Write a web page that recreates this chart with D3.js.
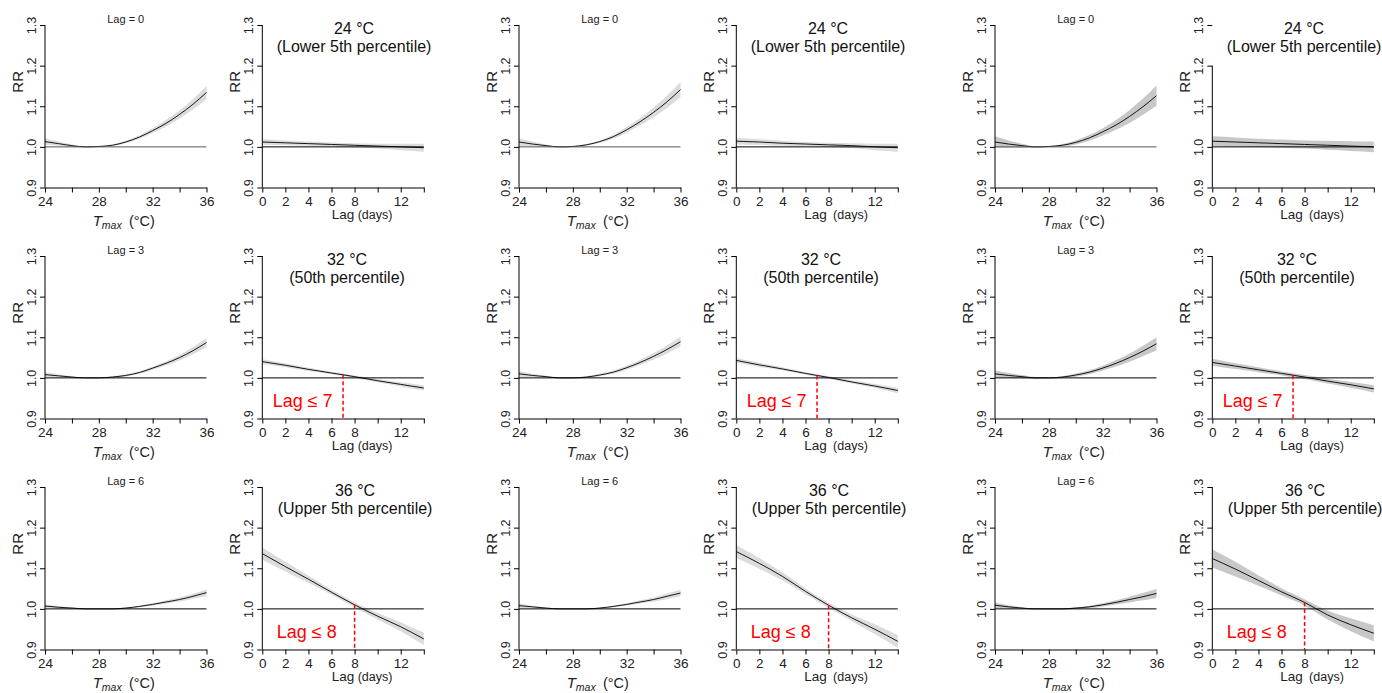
<!DOCTYPE html>
<html>
<head>
<meta charset="utf-8">
<script src="https://cdn.jsdelivr.net/npm/d3@7"></script>
<style>
  body { margin: 0; background: #fff; }
  svg { display: block; font-family: "Liberation Sans", Arial, sans-serif; }
</style>
</head>
<body>
<svg id="chart" width="1382" height="693"></svg>
<script>
// ---- data -------------------------------------------------------------
const tmaxGrid = [24, 25, 26, 27, 28, 29, 30, 31, 32, 33, 34, 35, 36];
const lagGrid = [0, 2, 4, 6, 8, 10, 12, 14];

const tmaxTicks = [24, 26, 28, 30, 32, 34, 36];
const tmaxTickLabels = [24, 28, 32, 36];
const lagTicks = [0, 2, 4, 6, 8, 10, 12, 14];
const lagTickLabels = [0, 2, 4, 6, 8, 12];
const rrTicks = [0.9, 1.0, 1.1, 1.2, 1.3];

const lagShown = [0, 3, 6];
const tempTitles = ["24 °C", "32 °C", "36 °C"];
const tempSubtitles = ["(Lower 5th percentile)", "(50th percentile)", "(Upper 5th percentile)"];
const lagCutoff = [null, 7, 8];

// exposure-response at a fixed lag (rows: lag 0, 3, 6)
const tmaxRR_A = [
  [1.013, 1.008, 1.003, 1.000, 1.001, 1.004, 1.012, 1.024, 1.040, 1.058, 1.080, 1.105, 1.134],
  [1.008, 1.005, 1.002, 1.000, 1.000, 1.002, 1.006, 1.013, 1.024, 1.036, 1.050, 1.067, 1.087],
  [1.007, 1.004, 1.002, 1.000, 1.000, 1.000, 1.002, 1.006, 1.011, 1.017, 1.023, 1.031, 1.040]
];
const tmaxHW_A = [
  [0.008, 0.005, 0.003, 0.001, 0.001, 0.002, 0.003, 0.004, 0.006, 0.008, 0.010, 0.013, 0.016],
  [0.006, 0.004, 0.002, 0.001, 0.001, 0.002, 0.003, 0.003, 0.004, 0.005, 0.007, 0.009, 0.011],
  [0.004, 0.003, 0.002, 0.001, 0.001, 0.001, 0.002, 0.002, 0.003, 0.004, 0.005, 0.006, 0.008]
];
// lag-response at a fixed temperature (rows: 24, 32, 36 °C)
const lagRR_A = [
  [1.012, 1.010, 1.008, 1.006, 1.004, 1.002, 1.000, 0.998],
  [1.040, 1.031, 1.021, 1.012, 1.003, 0.993, 0.984, 0.975],
  [1.136, 1.104, 1.073, 1.041, 1.010, 0.982, 0.956, 0.926]
];
const lagHW_A = [
  [0.007, 0.006, 0.005, 0.005, 0.005, 0.006, 0.008, 0.010],
  [0.006, 0.005, 0.004, 0.003, 0.003, 0.004, 0.005, 0.006],
  [0.015, 0.012, 0.009, 0.006, 0.006, 0.008, 0.011, 0.015]
];

const tmaxRR_B = [
  [1.012, 1.007, 1.003, 1.000, 1.001, 1.005, 1.013, 1.025, 1.042, 1.062, 1.085, 1.111, 1.141],
  [1.010, 1.006, 1.003, 1.000, 1.000, 1.002, 1.007, 1.014, 1.025, 1.038, 1.053, 1.070, 1.089],
  [1.008, 1.005, 1.002, 1.000, 1.000, 1.000, 1.002, 1.006, 1.011, 1.017, 1.023, 1.031, 1.039]
];
const tmaxHW_B = [
  [0.009, 0.006, 0.003, 0.001, 0.001, 0.002, 0.003, 0.005, 0.007, 0.009, 0.012, 0.015, 0.018],
  [0.007, 0.004, 0.002, 0.001, 0.001, 0.002, 0.003, 0.004, 0.005, 0.006, 0.008, 0.010, 0.012],
  [0.005, 0.003, 0.002, 0.001, 0.001, 0.001, 0.002, 0.002, 0.003, 0.004, 0.005, 0.007, 0.008]
];
const lagRR_B = [
  [1.014, 1.012, 1.009, 1.007, 1.005, 1.003, 1.000, 0.998],
  [1.043, 1.032, 1.022, 1.011, 1.001, 0.990, 0.980, 0.969],
  [1.141, 1.112, 1.080, 1.043, 1.009, 0.978, 0.950, 0.920]
];
const lagHW_B = [
  [0.008, 0.007, 0.006, 0.005, 0.005, 0.006, 0.008, 0.010],
  [0.006, 0.005, 0.004, 0.003, 0.003, 0.004, 0.005, 0.007],
  [0.016, 0.013, 0.010, 0.007, 0.006, 0.008, 0.012, 0.016]
];

const tmaxRR_C = [
  [1.012, 1.007, 1.003, 1.000, 1.001, 1.004, 1.011, 1.022, 1.037, 1.054, 1.075, 1.099, 1.126],
  [1.010, 1.006, 1.003, 1.000, 1.000, 1.002, 1.007, 1.014, 1.024, 1.036, 1.050, 1.066, 1.084],
  [1.009, 1.005, 1.002, 1.000, 1.000, 1.000, 1.002, 1.005, 1.010, 1.016, 1.023, 1.030, 1.038]
];
const tmaxHW_C = [
  [0.014, 0.009, 0.005, 0.002, 0.001, 0.003, 0.005, 0.007, 0.009, 0.012, 0.016, 0.020, 0.025],
  [0.009, 0.006, 0.004, 0.002, 0.001, 0.002, 0.004, 0.005, 0.006, 0.008, 0.010, 0.013, 0.016],
  [0.007, 0.004, 0.002, 0.001, 0.001, 0.001, 0.002, 0.003, 0.004, 0.005, 0.007, 0.009, 0.011]
];
const lagRR_C = [
  [1.014, 1.012, 1.010, 1.008, 1.006, 1.004, 1.002, 1.000],
  [1.038, 1.029, 1.020, 1.011, 1.002, 0.992, 0.983, 0.973],
  [1.124, 1.098, 1.070, 1.042, 1.016, 0.985, 0.961, 0.940]
];
const lagHW_C = [
  [0.012, 0.011, 0.010, 0.010, 0.010, 0.011, 0.012, 0.013],
  [0.009, 0.007, 0.006, 0.005, 0.005, 0.006, 0.007, 0.009],
  [0.022, 0.018, 0.013, 0.009, 0.008, 0.011, 0.016, 0.020]
];

const models = [
  { tmaxRR: tmaxRR_A, tmaxHW: tmaxHW_A, lagRR: lagRR_A, lagHW: lagHW_A },
  { tmaxRR: tmaxRR_B, tmaxHW: tmaxHW_B, lagRR: lagRR_B, lagHW: lagHW_B },
  { tmaxRR: tmaxRR_C, tmaxHW: tmaxHW_C, lagRR: lagRR_C, lagHW: lagHW_C }
];

// ---- layout -----------------------------------------------------------
const groupX = [0, 474, 950];
const leftX0 = 45, rightX0 = 262.3, plotW = 161.5;
const rowTop = [25, 256, 487], plotH = 162.5;
const bandFill = ["#dcdcdc", "#dcdcdc", "#c8c8c8"];
const titleShift = [11, 4, 12];
const cutoffLabelLag = [null, 3.5, 3.85];

const svg = d3.select("#chart");

function yAxis(g, y, topValue) {
  const ax = d3.axisLeft(y).tickValues(rrTicks).tickFormat(d3.format(".1f"))
    .tickSize(5).tickSizeOuter(0);
  g.call(ax);
  g.select(".domain").remove();
  g.append("line").attr("x1", 0).attr("x2", 0)
    .attr("y1", y(topValue)).attr("y2", y(0.9))
    .attr("stroke", "#000").attr("stroke-width", 1);
  g.selectAll(".tick line").attr("stroke", "#000");
  g.selectAll(".tick text")
    .attr("x", null).attr("dy", null)
    .attr("transform", "translate(-9,0) rotate(-90)")
    .attr("text-anchor", "middle")
    .attr("font-size", 12.5).attr("fill", "#222");
}

function xAxis(g, x, ticks, labels) {
  const ax = d3.axisBottom(x).tickValues(ticks)
    .tickFormat(d => labels.includes(d) ? d : "")
    .tickSize(5).tickSizeOuter(0);
  g.call(ax);
  g.select(".domain").attr("stroke", "#000");
  g.selectAll(".tick line").attr("stroke", "#000");
  g.selectAll(".tick text").attr("y", 18).attr("dy", null)
    .attr("font-size", 13.5).attr("fill", "#222");
}

function rrLabel(g, x0, y) {
  g.append("text")
    .attr("transform", `translate(${x0 - 22},${y(1.16)}) rotate(-90)`)
    .attr("text-anchor", "middle").attr("font-size", 15).attr("fill", "#222")
    .text("RR");
}

function drawCurve(g, x, y, xs, rr, hw, fill) {
  const pts = xs.map((v, i) => ({ x: v, m: rr[i], lo: rr[i] - hw[i], hi: rr[i] + hw[i] }));
  g.append("path").datum(pts)
    .attr("d", d3.area().x(d => x(d.x)).y0(d => y(d.lo)).y1(d => y(d.hi)).curve(d3.curveMonotoneX))
    .attr("fill", fill);
  g.append("path").datum(pts)
    .attr("d", d3.line().x(d => x(d.x)).y(d => y(d.m)).curve(d3.curveMonotoneX))
    .attr("fill", "none").attr("stroke", "#000").attr("stroke-width", 0.9);
}

models.forEach((model, gi) => {
  const gx = groupX[gi];
  rowTop.forEach((top, r) => {
    const y = d3.scaleLinear().domain([0.9, 1.3]).range([top + plotH, top]);

    // --- left: RR against Tmax at a given lag
    const xl0 = gx + leftX0;
    const xT = d3.scaleLinear().domain([24, 36]).range([xl0, xl0 + plotW]);
    const gl = svg.append("g");
    drawCurve(gl, xT, y, tmaxGrid, model.tmaxRR[r], model.tmaxHW[r], bandFill[gi]);
    gl.append("line").attr("x1", xT(24)).attr("x2", xT(36))
      .attr("y1", y(1)).attr("y2", y(1))
      .attr("stroke", r === 0 ? "#555" : "#000").attr("stroke-width", 1);
    yAxis(gl.append("g").attr("transform", `translate(${xl0},0)`), y, 1.3);
    xAxis(gl.append("g").attr("transform", `translate(0,${y(0.9)})`), xT, tmaxTicks, tmaxTickLabels);
    rrLabel(gl, xl0, y);
    gl.append("text").attr("x", xl0 + plotW / 2).attr("y", top - 2)
      .attr("text-anchor", "middle").attr("font-size", 11).attr("fill", "#222")
      .text(`Lag = ${lagShown[r]}`);
    const tl = gl.append("text").attr("x", xl0 + plotW / 2 - 2).attr("y", y(0.9) + 38)
      .attr("text-anchor", "middle").attr("fill", "#222").attr("font-size", 15);
    tl.append("tspan").attr("font-style", "italic").text("T");
    tl.append("tspan").attr("font-style", "italic").attr("font-size", 10.5).attr("dy", 3).text("max");
    tl.append("tspan").attr("dy", -3).attr("font-size", 14.5).text("\u2002(°C)");

    // --- right: RR against lag at a given temperature
    const xr0 = gx + rightX0;
    const xL = d3.scaleLinear().domain([0, 14]).range([xr0, xr0 + plotW]);
    const gr = svg.append("g");
    drawCurve(gr, xL, y, lagGrid, model.lagRR[r], model.lagHW[r], bandFill[gi]);
    gr.append("line").attr("x1", xL(0)).attr("x2", xL(14))
      .attr("y1", y(1)).attr("y2", y(1))
      .attr("stroke", "#000").attr("stroke-width", 1);
    yAxis(gr.append("g").attr("transform", `translate(${xr0},0)`), y,
      (gi === 2 && r === 0) ? 1.2 : 1.3);
    xAxis(gr.append("g").attr("transform", `translate(0,${y(0.9)})`), xL, lagTicks, lagTickLabels);
    rrLabel(gr, xr0, y);
    const cx = xr0 + plotW / 2 + titleShift[r];
    gr.append("text").attr("x", cx).attr("y", top + 9)
      .attr("text-anchor", "middle").attr("font-size", 16).attr("fill", "#111")
      .text(tempTitles[r]);
    gr.append("text").attr("x", cx).attr("y", top + 26.5)
      .attr("text-anchor", "middle").attr("font-size", 16).attr("fill", "#111")
      .text(tempSubtitles[r]);
    const lx = gr.append("text").attr("x", xr0 + plotW / 2 + 19).attr("y", y(0.9) + 31)
      .attr("text-anchor", "middle").attr("fill", "#222");
    lx.append("tspan").attr("font-size", 13.5).text("Lag");
    lx.append("tspan").attr("font-size", 12.5).text(gi === 0 ? " (days)" : "\u2002(days)");

    // significant-lag marker
    const cut = lagCutoff[r];
    if (cut !== null) {
      const rrAtCut = d3.scaleLinear().domain(lagGrid).range(model.lagRR[r])(cut);
      gr.append("line").attr("x1", xL(cut)).attr("x2", xL(cut))
        .attr("y1", y(rrAtCut)).attr("y2", y(0.9))
        .attr("stroke", "#f00").attr("stroke-width", 1.5).attr("stroke-dasharray", "4,2.5");
      gr.append("text").attr("x", xL(cutoffLabelLag[r])).attr("y", y(0.929))
        .attr("text-anchor", "middle").attr("font-size", 18).attr("fill", "#f00")
        .text(`Lag \u2264 ${cut}`);
    }
  });
});
</script>
</body>
</html>
